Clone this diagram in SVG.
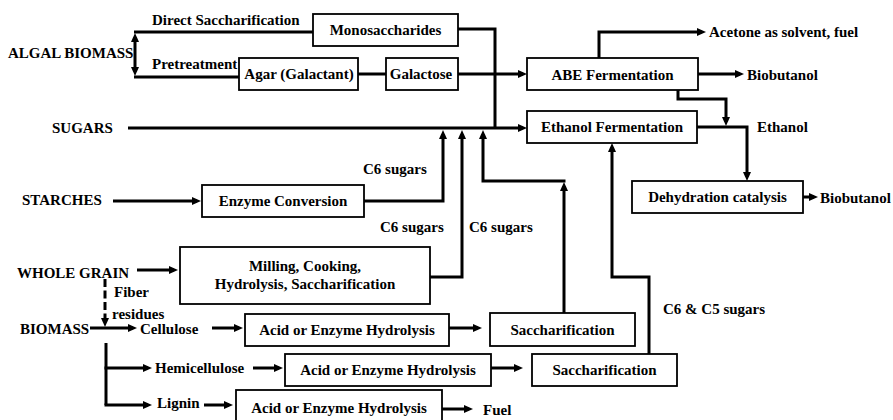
<svg xmlns="http://www.w3.org/2000/svg" width="893" height="420" viewBox="0 0 893 420" font-family="'Liberation Serif', 'DejaVu Serif', serif" font-weight="bold" font-size="15">
  <style>
    text { font-family: 'Liberation Serif', 'DejaVu Serif', serif; font-weight: 700; font-size: 15px; fill: #000; }
    .c { text-anchor: middle; }
    .box { fill: #fff; stroke: #000; stroke-width: 1.8; }
    .ln { fill: none; stroke: #000; stroke-width: 3; stroke-linejoin: miter; }
    .arr { marker-end: url(#ah); }
    .dash { stroke-dasharray: 8 3.5; stroke-width: 3; }
  </style>
  <defs>
    <marker id="ah" viewBox="0 0 9 8" markerWidth="9" markerHeight="8" refX="5" refY="4" orient="auto" markerUnits="userSpaceOnUse">
      <path d="M0,0 L9,4 L0,8 z" fill="#000"/>
    </marker>
  </defs>
  <rect width="893" height="420" fill="#fff"/>

  <!-- connectors -->
  <g id="connectors">
    <path class="ln" d="M313,32 H134"/>
    <path class="ln" d="M239,77 H134"/>
    <path class="ln arr" d="M135,55 V37"/>
    <path class="ln arr" d="M135,55 V72"/>
    <path class="ln" d="M456,29 H495 V128"/>
    <path class="ln" d="M358,74 H386"/>
    <path class="ln arr" d="M458,74 H523"/>
    <path class="ln arr" d="M128,128 H523"/>
    <path class="ln arr" d="M599,58 V32 H702"/>
    <path class="ln arr" d="M698,74 H740"/>
    <path class="ln arr" d="M678,90 V99 H726 V122"/>
    <path class="ln arr" d="M697,127 H747 V177"/>
    <path class="ln arr" d="M803,197 H814"/>
    <path class="ln arr" d="M113,201 H197"/>
    <path class="ln arr" d="M364,201 H443 V134"/>
    <path class="ln arr" d="M430,277 H462 V134"/>
    <path class="ln arr" d="M564,313 V186"/>
    <path class="ln arr" d="M565.5,181 H483 V134"/>
    <path class="ln arr" d="M649,354 V277 H612 V147"/>
    <path class="ln arr" d="M137,270 H174"/>
    <path class="ln dash arr" d="M105,279 V323"/>
    <path class="ln arr" d="M90,328 H133"/>
    <path class="ln arr" d="M212,328 H239"/>
    <path class="ln arr" d="M449,328 H478"/>
    <path class="ln" d="M106,343 V405"/>
    <path class="ln arr" d="M104.5,368 H148"/>
    <path class="ln arr" d="M104.5,405 H148"/>
    <path class="ln arr" d="M253,368 H279"/>
    <path class="ln arr" d="M491,368 H519"/>
    <path class="ln arr" d="M204,405 H229"/>
    <path class="ln arr" d="M442,409 H469"/>
  </g>

  <!-- free labels -->
  <g id="labels">
    <text x="152" y="25">Direct Saccharification</text>
    <text x="8" y="58">ALGAL BIOMASS</text>
    <text x="152" y="68.5">Pretreatment</text>
    <text x="52" y="133">SUGARS</text>
    <text x="709" y="37">Acetone as solvent, fuel</text>
    <text x="747" y="80">Biobutanol</text>
    <text x="757" y="132">Ethanol</text>
    <text x="363" y="174">C6 sugars</text>
    <text x="22" y="205">STARCHES</text>
    <text x="380" y="232">C6 sugars</text>
    <text x="469" y="232">C6 sugars</text>
    <text x="820" y="203">Biobutanol</text>
    <text x="17" y="278">WHOLE GRAIN</text>
    <text x="114" y="297">Fiber</text>
    <text x="112" y="319">residues</text>
    <text x="20" y="334">BIOMASS</text>
    <text x="140" y="334">Cellulose</text>
    <text x="155" y="373">Hemicellulose</text>
    <text x="157" y="408">Lignin</text>
    <text x="663" y="314">C6 &amp; C5 sugars</text>
    <text x="483" y="415">Fuel</text>
  </g>

  <!-- process boxes -->
  <g id="monosaccharides">
    <rect class="box" x="313" y="14" width="145" height="32"/>
    <text class="c" x="385.5" y="35">Monosaccharides</text>
  </g>
  <g id="agar">
    <rect class="box" x="239" y="58" width="119" height="32"/>
    <text class="c" x="299" y="79">Agar (Galactant)</text>
  </g>
  <g id="galactose">
    <rect class="box" x="386" y="58" width="72" height="32"/>
    <text class="c" x="421" y="79">Galactose</text>
  </g>
  <g id="abe-fermentation">
    <rect class="box" x="527" y="58" width="171" height="32"/>
    <text class="c" x="612.5" y="80">ABE Fermentation</text>
  </g>
  <g id="ethanol-fermentation">
    <rect class="box" x="527" y="111" width="170" height="32"/>
    <text class="c" x="612" y="132">Ethanol Fermentation</text>
  </g>
  <g id="dehydration">
    <rect class="box" x="632" y="181" width="171" height="32"/>
    <text class="c" x="717.5" y="202">Dehydration catalysis</text>
  </g>
  <g id="enzyme-conversion">
    <rect class="box" x="202" y="185" width="162" height="32"/>
    <text class="c" x="283" y="206">Enzyme Conversion</text>
  </g>
  <g id="milling">
    <rect class="box" x="180" y="247" width="250" height="57"/>
    <text class="c" x="305" y="271">Milling, Cooking,</text>
    <text class="c" x="305" y="289">Hydrolysis, Saccharification</text>
  </g>
  <g id="hydrolysis-cellulose">
    <rect class="box" x="245" y="314" width="204" height="32"/>
    <text class="c" x="347" y="335">Acid or Enzyme Hydrolysis</text>
  </g>
  <g id="saccharification-cellulose">
    <rect class="box" x="490" y="313" width="145" height="33"/>
    <text class="c" x="562.5" y="335">Saccharification</text>
  </g>
  <g id="hydrolysis-hemicellulose">
    <rect class="box" x="285" y="354" width="206" height="32"/>
    <text class="c" x="388" y="375">Acid or Enzyme Hydrolysis</text>
  </g>
  <g id="saccharification-hemicellulose">
    <rect class="box" x="532" y="354" width="145" height="32"/>
    <text class="c" x="604.5" y="375">Saccharification</text>
  </g>
  <g id="hydrolysis-lignin">
    <rect class="box" x="236" y="390" width="206" height="33"/>
    <text class="c" x="339" y="413">Acid or Enzyme Hydrolysis</text>
  </g>
</svg>
